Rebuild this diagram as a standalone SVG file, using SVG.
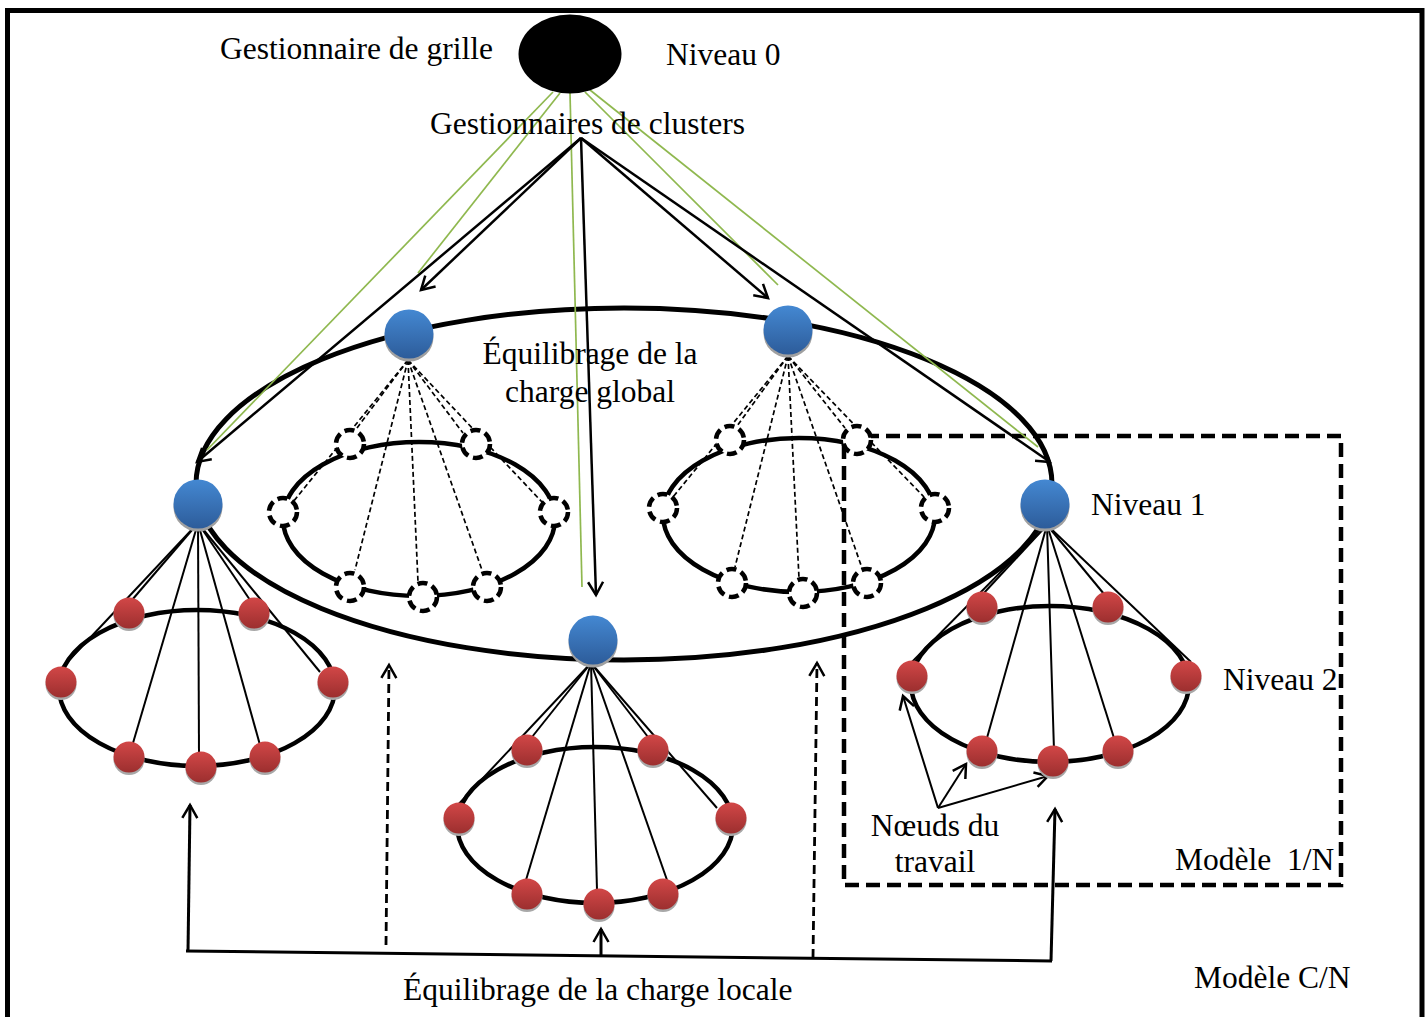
<svg xmlns="http://www.w3.org/2000/svg" width="1427" height="1017" viewBox="0 0 1427 1017">
<defs>
  <linearGradient id="gBlue" x1="0" y1="0" x2="0" y2="1">
    <stop offset="0" stop-color="#4488d2"/>
    <stop offset="1" stop-color="#2d5c9a"/>
  </linearGradient>
  <linearGradient id="gRed" x1="0" y1="0" x2="0" y2="1">
    <stop offset="0" stop-color="#d24747"/>
    <stop offset="1" stop-color="#9c2f2f"/>
  </linearGradient>
  <marker id="ah" markerUnits="userSpaceOnUse" markerWidth="24" markerHeight="24" refX="16" refY="8" orient="auto" overflow="visible">
    <path d="M3,0.5 L16,8 L3,15.5" fill="none" stroke="#000" stroke-width="2.5"/>
  </marker>
  <g id="blue">
    <circle cx="0" cy="3" r="24.5" fill="#a0a0a0"/>
    <circle cx="0" cy="0" r="24.5" fill="url(#gBlue)"/>
  </g>
  <g id="red">
    <circle cx="0" cy="2.5" r="15.5" fill="#a8a8a8"/>
    <circle cx="0" cy="0" r="15.5" fill="url(#gRed)"/>
  </g>
</defs>
<style>
  .t{font-family:"Liberation Serif","Times New Roman",serif;font-size:31.5px;fill:#000}
  .ring{fill:none;stroke:#000;stroke-width:4.5}
  .green{stroke:#8fb84f;stroke-width:1.7;fill:none}
  .arr{stroke:#000;stroke-width:2.5;fill:none;marker-end:url(#ah)}
  .darr{stroke:#000;stroke-width:2.8;fill:none;stroke-dasharray:9 5;marker-end:url(#ah)}
  .spoke{stroke:#000;stroke-width:2;fill:none}
  .dspoke{stroke:#000;stroke-width:1.7;fill:none;stroke-dasharray:5 3}
  .hollow{fill:#fff;stroke:#000;stroke-width:4.5;stroke-dasharray:10 5}
  .box{fill:none;stroke:#000;stroke-width:4.5;stroke-dasharray:14 7}
</style>
<rect x="0" y="0" width="1427" height="1017" fill="#fff"/>
<path d="M7.5,1017 V10.5 H1422 V1017" fill="none" stroke="#000" stroke-width="5"/>

<g id="rings">
  <ellipse cx="624" cy="484" rx="428" ry="176" fill="none" stroke="#000" stroke-width="5"/>
  <ellipse class="ring" cx="419" cy="519" rx="136" ry="77"/>
  <ellipse class="ring" cx="799" cy="515" rx="136" ry="77"/>
  <ellipse class="ring" cx="197" cy="688" rx="138" ry="78"/>
  <ellipse class="ring" cx="595" cy="825" rx="138" ry="78"/>
  <ellipse class="ring" cx="1050" cy="684" rx="139" ry="78"/>
  <rect class="box" x="844" y="436" width="497" height="449"/>
</g>

<g id="connectors">
  <line class="green" x1="553" y1="92" x2="207" y2="450"/>
  <line class="green" x1="560" y1="93" x2="418" y2="273"/>
  <line class="green" x1="570" y1="93" x2="582" y2="587"/>
  <line class="green" x1="585" y1="92" x2="778" y2="285"/>
  <line class="green" x1="590" y1="90" x2="1038" y2="447"/>
  <line class="arr" x1="581" y1="138" x2="197" y2="462"/>
  <line class="arr" x1="581" y1="138" x2="421" y2="290"/>
  <line class="arr" x1="581" y1="138" x2="596" y2="595"/>
  <line class="arr" x1="581" y1="138" x2="768" y2="298"/>
  <line class="arr" x1="581" y1="138" x2="1050" y2="462"/>
  <line class="dspoke" x1="408" y1="360" x2="357" y2="428"/>
  <line class="dspoke" x1="408" y1="360" x2="293" y2="502"/>
  <line class="dspoke" x1="408" y1="360" x2="463" y2="433"/>
  <line class="dspoke" x1="408" y1="360" x2="542" y2="502"/>
  <line class="dspoke" x1="408" y1="360" x2="355" y2="570"/>
  <line class="dspoke" x1="408" y1="360" x2="418" y2="582"/>
  <line class="dspoke" x1="408" y1="360" x2="482" y2="570"/>
  <line class="dspoke" x1="788" y1="356" x2="737" y2="426"/>
  <line class="dspoke" x1="788" y1="356" x2="673" y2="497"/>
  <line class="dspoke" x1="788" y1="356" x2="845" y2="428"/>
  <line class="dspoke" x1="788" y1="356" x2="924" y2="497"/>
  <line class="dspoke" x1="788" y1="356" x2="735" y2="567"/>
  <line class="dspoke" x1="788" y1="356" x2="799" y2="578"/>
  <line class="dspoke" x1="788" y1="356" x2="862" y2="568"/>
  <line class="spoke" x1="198" y1="523" x2="132" y2="600"/>
  <line class="spoke" x1="198" y1="523" x2="58" y2="672"/>
  <line class="spoke" x1="198" y1="523" x2="133" y2="743"/>
  <line class="spoke" x1="198" y1="523" x2="199" y2="755"/>
  <line class="spoke" x1="198" y1="523" x2="260" y2="745"/>
  <line class="spoke" x1="198" y1="523" x2="250" y2="600"/>
  <line class="spoke" x1="198" y1="523" x2="320" y2="672"/>
  <line class="spoke" x1="591" y1="663" x2="455" y2="808"/>
  <line class="spoke" x1="591" y1="663" x2="532" y2="737"/>
  <line class="spoke" x1="591" y1="663" x2="526" y2="880"/>
  <line class="spoke" x1="591" y1="663" x2="597" y2="890"/>
  <line class="spoke" x1="591" y1="663" x2="667" y2="880"/>
  <line class="spoke" x1="591" y1="663" x2="648" y2="737"/>
  <line class="spoke" x1="591" y1="663" x2="717" y2="808"/>
  <line class="spoke" x1="1047" y1="525" x2="910" y2="664"/>
  <line class="spoke" x1="1047" y1="525" x2="983" y2="594"/>
  <line class="spoke" x1="1047" y1="525" x2="985" y2="745"/>
  <line class="spoke" x1="1047" y1="525" x2="1054" y2="750"/>
  <line class="spoke" x1="1047" y1="525" x2="1114" y2="738"/>
  <line class="spoke" x1="1047" y1="525" x2="1104" y2="594"/>
  <line class="spoke" x1="1047" y1="525" x2="1191" y2="662"/>
  <line x1="186" y1="951" x2="1052" y2="961" stroke="#000" stroke-width="3"/>
  <line class="arr" x1="188" y1="951" x2="190" y2="805" style="stroke-width:3"/>
  <line class="arr" x1="601" y1="956" x2="601" y2="929" style="stroke-width:3"/>
  <line class="arr" x1="1051" y1="961" x2="1055" y2="809" style="stroke-width:3"/>
  <line class="darr" x1="386" y1="945" x2="389" y2="665"/>
  <line class="darr" x1="813" y1="958" x2="817" y2="663"/>
  <line class="arr" x1="938" y1="808" x2="903" y2="696" style="stroke-width:2"/>
  <line class="arr" x1="938" y1="808" x2="966" y2="764" style="stroke-width:2"/>
  <line class="arr" x1="938" y1="808" x2="1048" y2="776" style="stroke-width:2"/>
</g>

<g id="grid-manager"><ellipse cx="570" cy="54" rx="51.5" ry="39.5" fill="#000"/></g>

<g id="hollow-left">
  <circle class="hollow" cx="350" cy="444" r="14"/>
  <circle class="hollow" cx="476" cy="444" r="14"/>
  <circle class="hollow" cx="283" cy="512" r="14"/>
  <circle class="hollow" cx="554" cy="512" r="14"/>
  <circle class="hollow" cx="350" cy="587" r="14"/>
  <circle class="hollow" cx="423" cy="597" r="14"/>
  <circle class="hollow" cx="487" cy="587" r="14"/>
</g>
<g id="hollow-right">
  <circle class="hollow" cx="730" cy="440" r="14"/>
  <circle class="hollow" cx="857" cy="440" r="14"/>
  <circle class="hollow" cx="663" cy="508" r="14"/>
  <circle class="hollow" cx="935" cy="508" r="14"/>
  <circle class="hollow" cx="732" cy="583" r="14"/>
  <circle class="hollow" cx="803" cy="593" r="14"/>
  <circle class="hollow" cx="867" cy="583" r="14"/>
</g>

<g id="cluster-manager-top-left"><use href="#blue" x="409" y="334"/></g>
<g id="cluster-manager-top-right"><use href="#blue" x="788" y="330"/></g>
<g id="cluster-manager-left"><use href="#blue" x="198" y="504"/></g>
<g id="cluster-manager-right"><use href="#blue" x="1045" y="504"/></g>
<g id="cluster-manager-bottom"><use href="#blue" x="593" y="640"/></g>

<g id="workers-left">
  <use href="#red" x="129" y="613"/>
  <use href="#red" x="254" y="613"/>
  <use href="#red" x="61" y="682"/>
  <use href="#red" x="333" y="682"/>
  <use href="#red" x="129" y="757"/>
  <use href="#red" x="201" y="767"/>
  <use href="#red" x="265" y="757"/>
</g>
<g id="workers-middle">
  <use href="#red" x="527" y="750"/>
  <use href="#red" x="653" y="750"/>
  <use href="#red" x="459" y="818"/>
  <use href="#red" x="731" y="818"/>
  <use href="#red" x="527" y="894"/>
  <use href="#red" x="599" y="904"/>
  <use href="#red" x="663" y="894"/>
</g>
<g id="workers-right">
  <use href="#red" x="982" y="607"/>
  <use href="#red" x="1108" y="607"/>
  <use href="#red" x="912" y="676"/>
  <use href="#red" x="1186" y="676"/>
  <use href="#red" x="982" y="751"/>
  <use href="#red" x="1053" y="761"/>
  <use href="#red" x="1118" y="751"/>
</g>

<g id="labels">
  <text class="t" x="220" y="59">Gestionnaire de grille</text>
  <text class="t" x="666" y="65">Niveau 0</text>
  <text class="t" x="430" y="134">Gestionnaires de clusters</text>
  <text class="t" x="590" y="364" text-anchor="middle">Équilibrage de la</text>
  <text class="t" x="590" y="402" text-anchor="middle">charge global</text>
  <text class="t" x="1091" y="515">Niveau 1</text>
  <text class="t" x="1223" y="690">Niveau 2</text>
  <text class="t" x="935" y="836" text-anchor="middle">Nœuds du</text>
  <text class="t" x="935" y="872" text-anchor="middle">travail</text>
  <text class="t" x="1175" y="870" xml:space="preserve">Modèle  1/N</text>
  <text class="t" x="403" y="1000">Équilibrage de la charge locale</text>
  <text class="t" x="1194" y="988">Modèle C/N</text>
</g>
</svg>
